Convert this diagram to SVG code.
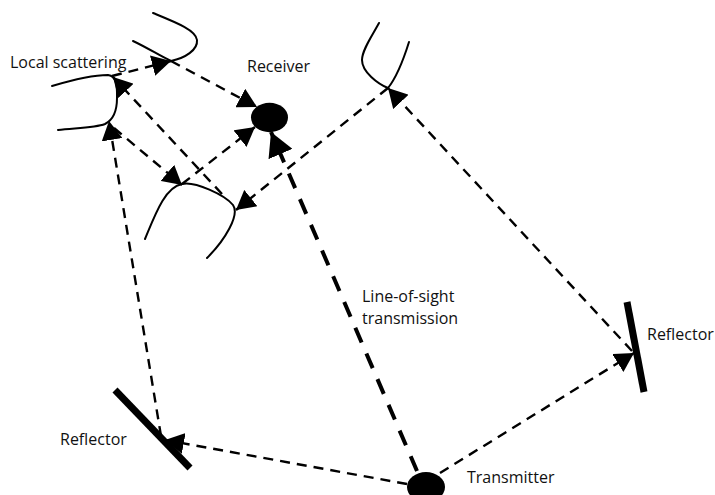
<svg xmlns="http://www.w3.org/2000/svg" width="715" height="495" viewBox="0 0 715 495">
  <defs>
    <!-- filled triangular arrowheads -->
    <marker id="arrow" viewBox="0 0 19 21" refX="19" refY="10.5" markerWidth="19" markerHeight="21" markerUnits="userSpaceOnUse" orient="auto">
      <path d="M0,0 L19,10.5 L0,21 Z" fill="#000"/>
    </marker>
    <marker id="arrowBig" viewBox="0 0 24 26" refX="24" refY="13" markerWidth="24" markerHeight="26" markerUnits="userSpaceOnUse" orient="auto">
      <path d="M0,0 L24,13 L0,26 Z" fill="#000"/>
    </marker>
    <style>
      .label { font-family: "Open Sans", "Noto Sans", sans-serif; font-size: 16px; fill: #111; }
      .scatter { fill: none; stroke: #000; stroke-width: 2; stroke-linecap: round; }
      .reflector { stroke: #000; stroke-width: 7; }
      .ray { fill: none; stroke: #000; stroke-width: 2.4; stroke-dasharray: 10 7; marker-end: url(#arrow); }
      .los { fill: none; stroke: #000; stroke-width: 4; stroke-dasharray: 16 12; marker-end: url(#arrowBig); }
      .device { fill: #000; }
    </style>
  </defs>

  <rect width="715" height="495" fill="#fff"/>

  <!-- propagation paths -->
  <g id="connectors">
    <path class="ray" d="M112,76 L171,61"/>
    <path class="ray" d="M171,61 L257,107"/>
    <path class="ray" d="M182,184 L255,127"/>
    <path class="ray" d="M114,128 L182,185"/>
    <path class="ray" d="M222,194 L113,77"/>
    <path class="ray" d="M388,88 L236,210"/>
    <path class="ray" d="M632,351 L388,88"/>
    <path class="ray" d="M440,473 L634,353"/>
    <path class="ray" d="M407,484 L165,440"/>
    <path class="ray" d="M161,436 L109,121"/>
    <path class="los" d="M417,471 L271,132"/>
  </g>

  <!-- local scatterers -->
  <g id="scatterer-top">
    <path class="scatter" d="M153,13 C175,22 196,30 197,40 C198,50 185,58 171,61"/>
    <path class="scatter" d="M133,41 C148,48 160,56 171,61"/>
  </g>
  <g id="scatterer-left">
    <path class="scatter" d="M52,86 C72,80 95,75 108,75 C118,76 117,90 117,98 C117,110 113,120 105,124 C95,128 75,128 58,130"/>
  </g>
  <g id="scatterer-bottom">
    <path class="scatter" d="M145,239 C155,215 165,187 182,184 C195,181 225,195 233,205 C240,215 225,240 207,258"/>
  </g>
  <g id="scatterer-right">
    <path class="scatter" d="M379,23 C372,36 362,50 362,60 C362,72 378,84 388,88"/>
    <path class="scatter" d="M409,42 C404,58 396,78 388,88"/>
  </g>

  <g id="local-scattering-label">
    <text class="label" x="10" y="68">Local scattering</text>
  </g>

  <!-- receiver -->
  <g id="receiver">
    <ellipse class="device" cx="269.5" cy="117.5" rx="18.5" ry="14.7"/>
    <text class="label" x="247" y="72">Receiver</text>
  </g>

  <!-- transmitter -->
  <g id="transmitter">
    <ellipse class="device" cx="426" cy="487" rx="19" ry="15"/>
    <text class="label" x="467" y="483">Transmitter</text>
  </g>

  <!-- reflectors -->
  <g id="reflector-left">
    <line class="reflector" x1="115" y1="390" x2="190" y2="468"/>
    <text class="label" x="60" y="445">Reflector</text>
  </g>
  <g id="reflector-right">
    <line class="reflector" x1="627" y1="302" x2="644" y2="392"/>
    <text class="label" x="647" y="340">Reflector</text>
  </g>

  <g id="los-label">
    <text class="label" x="362" y="302">Line-of-sight</text>
    <text class="label" x="362" y="324">transmission</text>
  </g>
</svg>
